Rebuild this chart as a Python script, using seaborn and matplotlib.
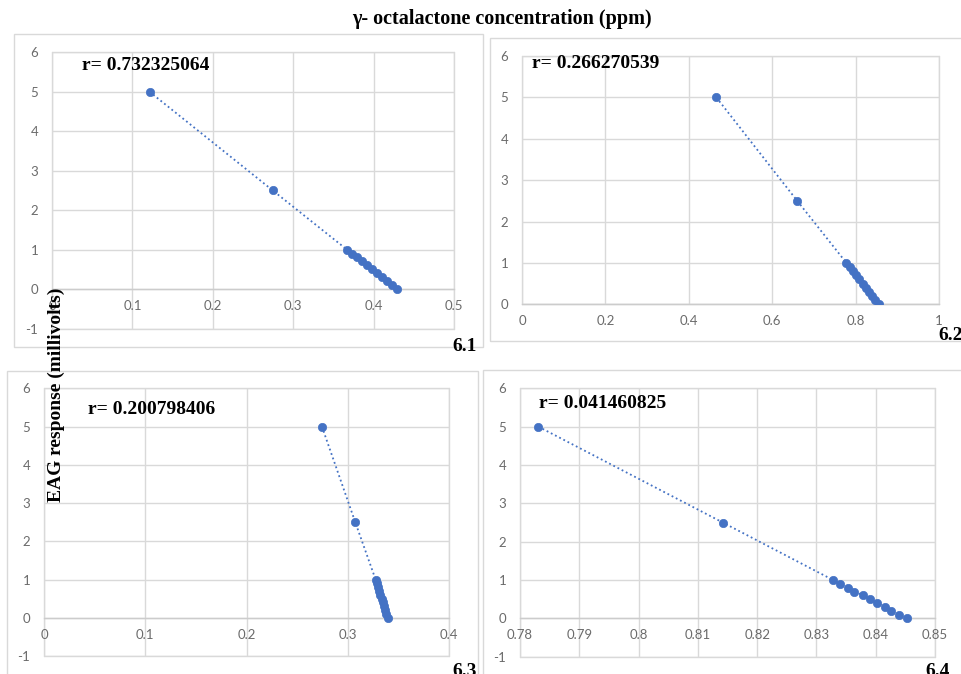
import matplotlib
matplotlib.use("Agg")
import matplotlib.pyplot as plt
import seaborn as sns
import pandas as pd
from matplotlib.patches import Rectangle

# EAG response (mV) shared by all four panels
eag_response = [5.0, 2.5, 1.0, 0.9, 0.8, 0.7, 0.6, 0.5, 0.4, 0.3, 0.2, 0.1, 0.0]

# gamma-octalactone concentration (ppm)
conc_61 = [0.1213, 0.2745, 0.3668, 0.3731, 0.3793, 0.3856, 0.3919, 0.3981,
           0.4044, 0.4106, 0.4169, 0.4232, 0.4296]
conc_62 = [0.466, 0.660, 0.778, 0.786, 0.794, 0.801, 0.809, 0.817,
           0.824, 0.832, 0.840, 0.847, 0.855]
conc_63 = [0.2745, 0.3074, 0.3275, 0.3287, 0.3299, 0.3311, 0.3323, 0.3335,
           0.3346, 0.3358, 0.3370, 0.3382, 0.3394]
conc_64 = [0.7831, 0.8142, 0.8328, 0.8339, 0.8353, 0.8364, 0.8379, 0.8390,
           0.8403, 0.8415, 0.8426, 0.8440, 0.8452]

r_values = ["0.732325064", "0.266270539", "0.200798406", "0.041460825"]
panel_names = ["6.1", "6.2", "6.3", "6.4"]

xticks_61 = [0, 0.1, 0.2, 0.3, 0.4, 0.5]
xticks_62 = [0, 0.2, 0.4, 0.6, 0.8, 1]
xticks_63 = [0, 0.1, 0.2, 0.3, 0.4]
xticks_64 = [0.78, 0.79, 0.80, 0.81, 0.82, 0.83, 0.84, 0.85]
yticks_neg = [-1, 0, 1, 2, 3, 4, 5, 6]
yticks_pos = [0, 1, 2, 3, 4, 5, 6]

W, H = 961, 674
BLUE = "#4472C4"
GRID = "#d9d9d9"
SERIF = ["Liberation Serif", "DejaVu Serif"]

sns.set_theme(style="white")
plt.rcParams["font.family"] = ["Lato", "DejaVu Sans"]

fig = plt.figure(figsize=(W / 100, H / 100), dpi=100)
fig.patch.set_facecolor("white")


def px_box(left, top, right, bottom):
    return [left / W, 1 - bottom / H, (right - left) / W, (bottom - top) / H]


def fx(x):
    return x / W


def fy(y):
    return 1 - y / H


panels = [
    # data, xticks, yticks, plot area px, chart border px, r-label pos, name pos
    (conc_61, xticks_61, yticks_neg, (52, 52.3, 454, 328.5), (14, 34, 483, 347), (82, 66), (452, 347)),
    (conc_62, xticks_62, yticks_pos, (522, 56, 939, 304.3), (490, 38, 963, 341), (532, 63), (938, 336)),
    (conc_63, xticks_63, yticks_neg, (44, 388.3, 449, 656), (7, 371, 478, 676), (88, 409), (452, 671)),
    (conc_64, xticks_64, yticks_neg, (520, 388.3, 935, 656.7), (483, 370, 963, 676), (539, 403), (925, 671)),
]

for i, (conc, xt, yt, area, border, rpos, npos) in enumerate(panels):
    bl, bt, br, bb = border
    fig.patches.append(Rectangle((fx(bl), fy(bb)), (br - bl) / W, (bb - bt) / H,
                                 transform=fig.transFigure, fill=False,
                                 edgecolor=GRID, lw=1, zorder=0.5))

    ax = fig.add_axes(px_box(*area))
    ax.set_facecolor("none")
    df = pd.DataFrame({"conc": conc, "eag": eag_response})

    sns.lineplot(data=df, x="conc", y="eag", ax=ax, sort=False, estimator=None,
                 color=BLUE, lw=1.3, linestyle=(0, (1, 1.6)), zorder=3)
    sns.scatterplot(data=df, x="conc", y="eag", ax=ax, color=BLUE, s=36,
                    edgecolor=BLUE, linewidth=0.5, zorder=4)

    ax.set_xlim(xt[0], xt[-1])
    ax.set_ylim(yt[0], yt[-1])
    ax.set_xticks(xt)
    ax.set_xticklabels([f"{v:g}" for v in xt])
    ax.set_yticks(yt)
    ax.set_yticklabels([f"{v:g}" for v in yt])
    ax.set_xlabel("")
    ax.set_ylabel("")
    ax.grid(True, color=GRID, lw=1)
    ax.set_axisbelow(True)
    # plot-area edges, drawn unclipped so the outer gridlines show in full
    ax.axhline(yt[0], color=GRID, lw=1, clip_on=False, zorder=0.5)
    ax.axhline(yt[-1], color=GRID, lw=1, clip_on=False, zorder=0.5)
    ax.axvline(xt[0], color=GRID, lw=1, clip_on=False, zorder=0.5)
    ax.axvline(xt[-1], color=GRID, lw=1, clip_on=False, zorder=0.5)

    for side in ["top", "right", "left"]:
        ax.spines[side].set_visible(False)
    ax.spines["bottom"].set_position(("data", 0))
    ax.spines["bottom"].set_color("#cccccc")
    ax.spines["bottom"].set_linewidth(1)

    ax.tick_params(axis="both", length=0, labelsize=9.5, labelcolor="#6b6b6b")
    ax.tick_params(axis="x", pad=8)
    ax.tick_params(axis="y", pad=10)

    fig.text(fx(rpos[0]), fy(rpos[1]), f"r= {r_values[i]}", family=SERIF,
             fontweight="bold", fontsize=14, ha="left", va="center", color="black")
    fig.text(fx(npos[0]), fy(npos[1]), panel_names[i], family=SERIF,
             fontweight="bold", fontsize=14, ha="left", va="center", color="black")

fig.text(fx(352), fy(19), "γ- octalactone concentration (ppm)", family=SERIF,
         fontweight="bold", fontsize=14.5, ha="left", va="center", color="black")
fig.text(fx(56), fy(395), "EAG response (millivolts)", family=SERIF,
         fontweight="bold", fontsize=14, rotation=90, ha="center", va="center",
         color="black")

fig.savefig("out.png", dpi=100, facecolor="white")
